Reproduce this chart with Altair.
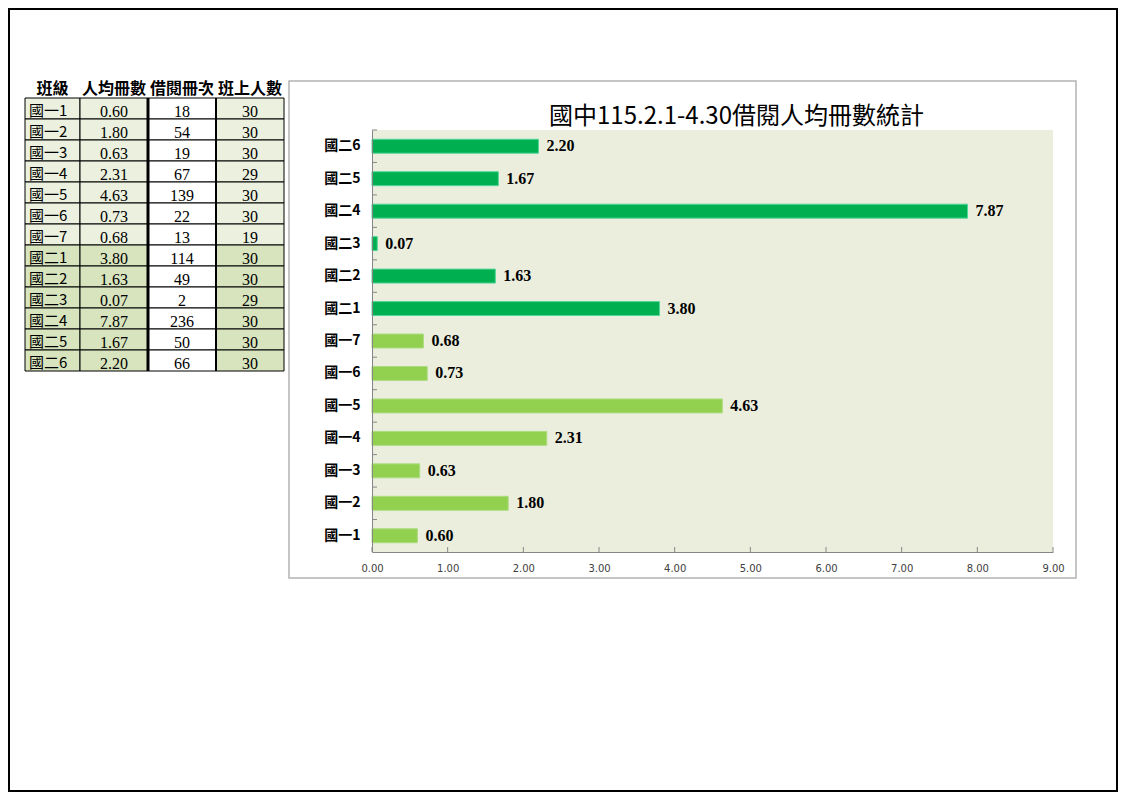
import altair as alt
import pandas as pd

# ---------------- data ----------------
classes = ["國一1", "國一2", "國一3", "國一4", "國一5", "國一6", "國一7",
           "國二1", "國二2", "國二3", "國二4", "國二5", "國二6"]
per_capita = [0.60, 1.80, 0.63, 2.31, 4.63, 0.73, 0.68, 3.80, 1.63, 0.07, 7.87, 1.67, 2.20]
borrowed = [18, 54, 19, 67, 139, 22, 13, 114, 49, 2, 236, 50, 66]
students = [30, 30, 30, 29, 30, 30, 19, 30, 30, 29, 30, 30, 30]
headers = ["班級", "人均冊數", "借閱冊次", "班上人數"]
x_ticks = [0, 1, 2, 3, 4, 5, 6, 7, 8, 9]
title_text = "國中115.2.1-4.30借閱人均冊數統計"

CJK = "Noto Sans CJK TC"

grades = [c[1] for c in classes]
df = pd.DataFrame({"cls": classes, "value": per_capita, "grade": grades})

rows = []
for i, c in enumerate(classes):
    vals = [f"{per_capita[i]:.2f}", str(borrowed[i]), str(students[i])]
    for j, h in enumerate(headers[1:]):
        rows.append({"cls": c, "col": h, "text": vals[j],
                     "shade": "white" if h == headers[2] else grades[i]})
tab = pd.DataFrame(rows)
tab1 = pd.DataFrame({"cls": classes, "shade": grades})
one = pd.DataFrame({"k": [0]})

# ---------------- table ----------------
row_scale = alt.Scale(domain=classes, range=[90, 363], paddingInner=0, paddingOuter=0)
col_scale = alt.Scale(domain=headers[1:], range=[72, 276], paddingInner=0, paddingOuter=0)
shade_scale = alt.Scale(domain=["一", "二", "white"], range=["#EBF1DE", "#D7E4BD", "#FFFFFF"])

c1_rect = alt.Chart(tab1).mark_rect(stroke="black", strokeWidth=1).encode(
    x=alt.value(17), x2=alt.value(72),
    y=alt.Y("cls:N", scale=row_scale, axis=None),
    fill=alt.Fill("shade:N", scale=shade_scale, legend=None),
)
c_rect = alt.Chart(tab).mark_rect(stroke="black", strokeWidth=1).encode(
    x=alt.X("col:N", scale=col_scale, axis=None),
    y=alt.Y("cls:N", scale=row_scale, axis=None),
    fill=alt.Fill("shade:N", scale=shade_scale, legend=None),
)
c1_text = alt.Chart(tab1).mark_text(align="left", baseline="alphabetic", dy=-3,
                                    font=CJK, fontSize=15, color="black").encode(
    x=alt.value(21),
    y=alt.Y("cls:N", scale=row_scale, axis=None, bandPosition=1),
    text="cls:N",
)
c_text = alt.Chart(tab).mark_text(align="center", baseline="alphabetic", dy=-2,
                                  font="Liberation Serif", fontSize=16, color="black").encode(
    x=alt.X("col:N", scale=col_scale, axis=None),
    y=alt.Y("cls:N", scale=row_scale, axis=None, bandPosition=1),
    text="text:N",
)
mid = pd.DataFrame({"col": [headers[2]]})
thick_l = alt.Chart(mid).mark_rule(color="black", strokeWidth=3).encode(
    x=alt.X("col:N", scale=col_scale, axis=None, bandPosition=0),
    y=alt.value(90), y2=alt.value(363),
)
thick_r = alt.Chart(mid).mark_rule(color="black", strokeWidth=2).encode(
    x=alt.X("col:N", scale=col_scale, axis=None, bandPosition=1),
    y=alt.value(90), y2=alt.value(363),
)
hdr1 = alt.Chart(pd.DataFrame({"col": [headers[0]]})).mark_text(
    align="center", baseline="alphabetic", font=CJK, fontSize=16, fontWeight="bold", color="black"
).encode(x=alt.value(44.5), y=alt.value(86), text="col:N")
hdr = alt.Chart(pd.DataFrame({"col": headers[1:]})).mark_text(
    align="center", baseline="alphabetic", font=CJK, fontSize=16, fontWeight="bold", color="black"
).encode(x=alt.X("col:N", scale=col_scale, axis=None), y=alt.value(86), text="col:N")

table = alt.layer(c1_rect, c_rect, c1_text, c_text, thick_l, thick_r, hdr1, hdr)

# ---------------- decorations ----------------
outer = alt.Chart(one).mark_rect(fill=None, stroke="black", strokeWidth=2).encode(
    x=alt.value(1), x2=alt.value(1109), y=alt.value(1), y2=alt.value(783)
)
box = alt.Chart(one).mark_rect(fill="white", stroke="#B3B3B3", strokeWidth=1.5).encode(
    x=alt.value(281), x2=alt.value(1068), y=alt.value(73), y2=alt.value(570)
)
plot_bg = alt.Chart(one).mark_rect(fill="#EBEEDD").encode(
    x=alt.value(364), x2=alt.value(1045), y=alt.value(122), y2=alt.value(544)
)
title = alt.Chart(one).mark_text(text=title_text, font=CJK, fontSize=24, align="center",
                                 baseline="middle", color="black").encode(
    x=alt.value(728.5), y=alt.value(109)
)

# ---------------- bar chart ----------------
PAD_IN = 0.57
Y0, Y1 = 122, 544
xs = alt.Scale(domain=[0, 9], range=[364, 1045], nice=False, zero=False)
ys = alt.Scale(domain=classes[::-1], range=[Y0, Y1], paddingInner=PAD_IN, paddingOuter=PAD_IN / 2)
fill_sc = alt.Scale(domain=["一", "二"], range=["#92D050", "#00B050"])
stroke_sc = alt.Scale(domain=["一", "二"], range=["#ADDC80", "#52D69A"])

x_axis = alt.Axis(orient="bottom", offset=-240, values=x_ticks, format=".2f", ticks=False,
                  tickSize=0, labelPadding=11, labelFont="DejaVu Sans", labelFontSize=10,
                  labelColor="#404040", labelFlush=False, labelOverlap=False,
                  domainColor="#868686", grid=False, title=None, zindex=2)
y_axis = alt.Axis(orient="left", offset=-364, ticks=False, tickSize=0,
                  domainColor="#868686", labelFont=CJK, labelFontSize=14,
                  labelFontWeight="bold", labelColor="black", labelPadding=12, grid=False,
                  title=None, zindex=2)

bars = alt.Chart(df).mark_bar(strokeWidth=1).encode(
    x=alt.X("value:Q", scale=xs, axis=x_axis),
    y=alt.Y("cls:N", scale=ys, sort=None, axis=y_axis),
    color=alt.Color("grade:N", scale=fill_sc, legend=None),
    stroke=alt.Stroke("grade:N", scale=stroke_sc, legend=None),
)
labels = alt.Chart(df).mark_text(align="left", baseline="middle", dx=8,
                                 font="Liberation Serif", fontSize=16, fontWeight="bold",
                                 color="black").encode(
    x=alt.X("value:Q", scale=xs),
    y=alt.Y("cls:N", scale=ys, sort=None),
    text=alt.Text("value:Q", format=".2f"),
)
# inward category-boundary ticks (top edge of each band step)
step = (Y1 - Y0) / len(classes)
yticks = alt.Chart(df).mark_rule(color="#868686").encode(
    y=alt.Y("cls:N", scale=ys, sort=None, bandPosition=0),
    yOffset=alt.value(-(PAD_IN / 2) * step),
    x=alt.value(364), x2=alt.value(369),
)
xticks = alt.Chart(pd.DataFrame({"tick": x_ticks})).mark_rule(color="#868686").encode(
    x=alt.X("tick:Q", scale=xs, title=None),
    y=alt.value(539), y2=alt.value(544),
)
barlayer = alt.layer(bars, labels, yticks, xticks)

chart = alt.layer(outer, table, box, plot_bg, title, barlayer).resolve_scale(
    x="independent", y="independent"
).properties(
    width=1110, height=784, padding=0,
    autosize=alt.AutoSizeParams(type="none"),
    background="white",
).configure_view(strokeWidth=0)

chart.save("out.html", embed_options={"renderer": "svg", "actions": False})
